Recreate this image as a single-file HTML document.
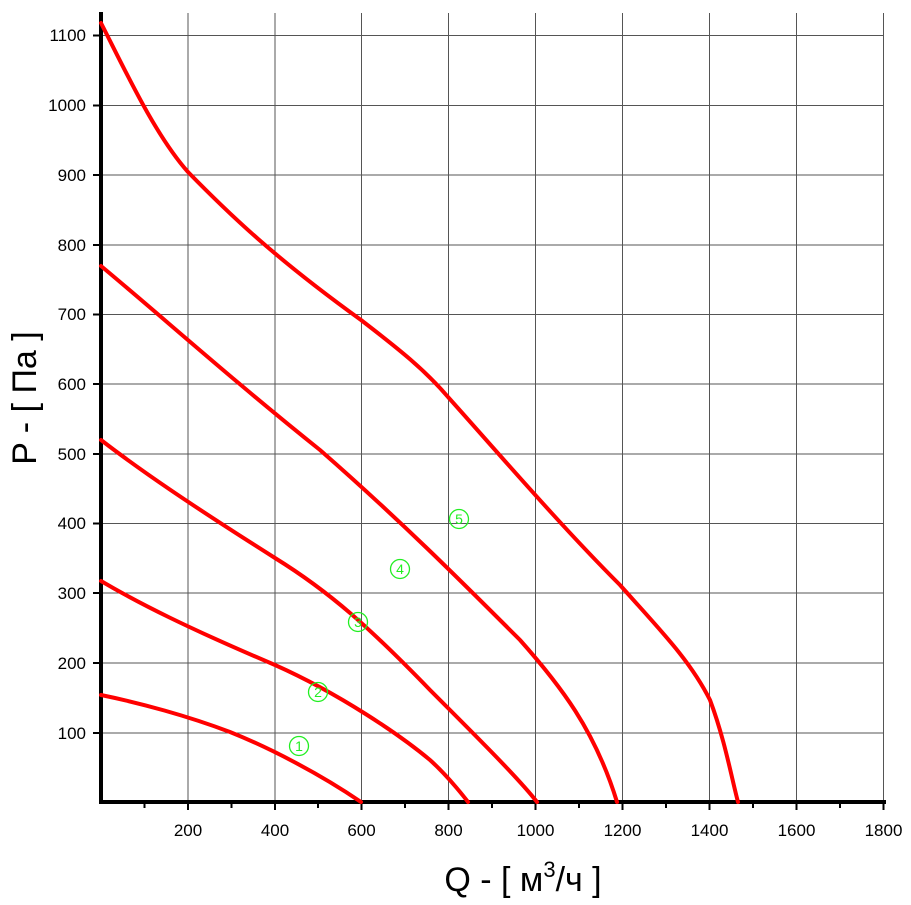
<!DOCTYPE html><html><head><style>body{margin:0;background:#fff}</style></head><body>
<svg width="911" height="900" xmlns="http://www.w3.org/2000/svg" font-family="Liberation Sans, sans-serif">
<g stroke="#555" stroke-width="1">
<line x1="188" y1="13" x2="188" y2="802"/><line x1="275" y1="13" x2="275" y2="802"/><line x1="361.5" y1="13" x2="361.5" y2="802"/><line x1="448.5" y1="13" x2="448.5" y2="802"/><line x1="535.5" y1="13" x2="535.5" y2="802"/><line x1="622.5" y1="13" x2="622.5" y2="802"/><line x1="709.5" y1="13" x2="709.5" y2="802"/><line x1="796.5" y1="13" x2="796.5" y2="802"/><line x1="883.5" y1="13" x2="883.5" y2="802"/>
<line x1="101" y1="35.5" x2="884" y2="35.5"/><line x1="101" y1="105.5" x2="884" y2="105.5"/><line x1="101" y1="175" x2="884" y2="175"/><line x1="101" y1="245" x2="884" y2="245"/><line x1="101" y1="314.5" x2="884" y2="314.5"/><line x1="101" y1="384" x2="884" y2="384"/><line x1="101" y1="454" x2="884" y2="454"/><line x1="101" y1="523.5" x2="884" y2="523.5"/><line x1="101" y1="593" x2="884" y2="593"/><line x1="101" y1="663" x2="884" y2="663"/><line x1="101" y1="733" x2="884" y2="733"/>
</g>
<g stroke="#000" stroke-width="2">
<line x1="144.5" y1="802" x2="144.5" y2="808"/><line x1="231.5" y1="802" x2="231.5" y2="808"/><line x1="318" y1="802" x2="318" y2="808"/><line x1="405" y1="802" x2="405" y2="808"/><line x1="492" y1="802" x2="492" y2="808"/><line x1="579" y1="802" x2="579" y2="808"/><line x1="666" y1="802" x2="666" y2="808"/><line x1="753" y1="802" x2="753" y2="808"/><line x1="840" y1="802" x2="840" y2="808"/>
<line x1="188" y1="802" x2="188" y2="810"/><line x1="275" y1="802" x2="275" y2="810"/><line x1="361.5" y1="802" x2="361.5" y2="810"/><line x1="448.5" y1="802" x2="448.5" y2="810"/><line x1="535.5" y1="802" x2="535.5" y2="810"/><line x1="622.5" y1="802" x2="622.5" y2="810"/><line x1="709.5" y1="802" x2="709.5" y2="810"/><line x1="796.5" y1="802" x2="796.5" y2="810"/><line x1="883.5" y1="802" x2="883.5" y2="810"/>
<line x1="93" y1="35.5" x2="101" y2="35.5"/><line x1="93" y1="105.5" x2="101" y2="105.5"/><line x1="93" y1="175" x2="101" y2="175"/><line x1="93" y1="245" x2="101" y2="245"/><line x1="93" y1="314.5" x2="101" y2="314.5"/><line x1="93" y1="384" x2="101" y2="384"/><line x1="93" y1="454" x2="101" y2="454"/><line x1="93" y1="523.5" x2="101" y2="523.5"/><line x1="93" y1="593" x2="101" y2="593"/><line x1="93" y1="663" x2="101" y2="663"/><line x1="93" y1="733" x2="101" y2="733"/>
</g>
<line x1="101" y1="12" x2="101" y2="804" stroke="#000" stroke-width="4"/>
<line x1="99" y1="802" x2="886" y2="802" stroke="#000" stroke-width="4"/>
<g font-size="17" fill="#000" text-anchor="end">
<text x="86" y="41">1100</text><text x="86" y="111">1000</text><text x="86" y="181">900</text><text x="86" y="251">800</text><text x="86" y="320">700</text><text x="86" y="390">600</text><text x="86" y="460">500</text><text x="86" y="529">400</text><text x="86" y="599">300</text><text x="86" y="669">200</text><text x="86" y="739">100</text>
</g>
<g font-size="17" fill="#000" text-anchor="middle">
<text x="188" y="836">200</text><text x="275" y="836">400</text><text x="361.5" y="836">600</text><text x="448.5" y="836">800</text><text x="535.5" y="836">1000</text><text x="622.5" y="836">1200</text><text x="709.5" y="836">1400</text><text x="796.5" y="836">1600</text><text x="883.5" y="836">1800</text>
</g>
<text x="523" y="891" font-size="34" text-anchor="middle">Q - [ м<tspan font-size="22" dy="-14">3</tspan><tspan dy="14">/ч ]</tspan></text>
<text transform="translate(36,398) rotate(-90)" font-size="34" text-anchor="middle">P - [ Па ]</text>
<g fill="none" stroke="#f00" stroke-width="4" stroke-linecap="round" stroke-linejoin="round">
<path d="M101,695 C140,703 188,716 230,732 C270,748 320,774 361,802"/>
<path d="M101,581 C140,604 188,628 275,665 C340,694 400,735 430,760 C450,778 468,802 468,802"/>
<path d="M101,440 C140,470 188,503 275,558 C330,592 370,628 430,690 C480,740 520,780 537,802"/>
<path d="M101,266 C160,315 230,378 320,450 C400,520 460,580 520,640 C560,685 595,730 617,802"/>
<path d="M101,23 C125,70 155,135 188,172 C230,215 275,258 361,320 C400,350 425,370 448,397 C500,455 560,525 620,585 C660,630 690,660 710,700 C725,740 732,780 738,802"/>
</g>
<g fill="none" stroke="#2e2" stroke-width="1.3">
<circle cx="299" cy="746" r="9.5"/><circle cx="318" cy="692" r="9.5"/><circle cx="358" cy="622" r="9.5"/><circle cx="400" cy="569" r="9.5"/><circle cx="459" cy="519" r="9.5"/>
</g>
<g fill="#2e2" font-size="14" text-anchor="middle">
<text x="299" y="751">1</text><text x="318" y="697">2</text><text x="358" y="627">3</text><text x="400" y="574">4</text><text x="459" y="524">5</text>
</g>
</svg>
</body></html>
